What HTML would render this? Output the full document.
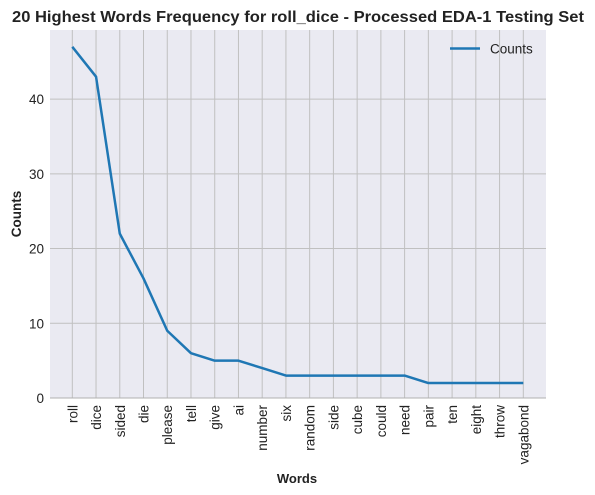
<!DOCTYPE html>
<html><head><meta charset="utf-8"><style>
html,body{margin:0;padding:0;background:#fff;}
svg{display:block;font-family:"Liberation Sans",Arial,sans-serif;}
</style></head><body>
<svg id="chart" width="595" height="495">
<text x="298" y="22" text-anchor="middle" font-size="15.5" font-weight="bold" fill="#222" textLength="572" lengthAdjust="spacingAndGlyphs">20 Highest Words Frequency for roll_dice - Processed EDA-1 Testing Set</text>
<rect x="50" y="30" width="496" height="368" fill="#eaeaf2"/>
<g id="grid"></g>
<line x1="50" y1="398" x2="546" y2="398" stroke="#b0b0b0" stroke-width="1"/>
<g id="yticks"></g>
<g id="xticks"></g>
<polyline id="series" fill="none" stroke="#1f77b4" stroke-width="2.5" stroke-linejoin="round"/>
<g>
<line x1="450" y1="48.5" x2="480" y2="48.5" stroke="#1f77b4" stroke-width="2.5"/>
<text x="490" y="53.5" font-size="13.5" fill="#222">Counts</text>
</g>
<text transform="translate(21,214) rotate(-90)" text-anchor="middle" font-size="13.5" font-weight="bold" fill="#222">Counts</text>
<text x="297" y="483" text-anchor="middle" font-size="13" font-weight="bold" fill="#222">Words</text>
</svg>
<script>
const words = ["roll","dice","sided","die","please","tell","give","ai","number","six","random","side","cube","could","need","pair","ten","eight","throw","vagabond"];
const counts = [47,43,22,16,9,6,5,5,4,3,3,3,3,3,3,2,2,2,2,2];
const yTicks = [0,10,20,30,40];
const yMax = 49.25;
const NS = "http://www.w3.org/2000/svg";
function xs(i){ return 72.3 + i * (523.3 - 72.3) / (words.length - 1); }
function ys(v){ return 398 - v * (368 / yMax); }
const grid = document.getElementById('grid');
const yt = document.getElementById('yticks');
const xt = document.getElementById('xticks');
yTicks.forEach(t => {
  if (t > 0) {
    const l = document.createElementNS(NS,'line');
    l.setAttribute('x1',50); l.setAttribute('x2',546);
    l.setAttribute('y1',ys(t)); l.setAttribute('y2',ys(t));
    l.setAttribute('stroke','#c0c0c0'); l.setAttribute('stroke-width','1');
    
    
    grid.appendChild(l);
  }
  const tx = document.createElementNS(NS,'text');
  tx.setAttribute('x',44); tx.setAttribute('y',ys(t)+5);
  tx.setAttribute('text-anchor','end'); tx.setAttribute('font-size','13.5'); tx.setAttribute('fill','#222');
  tx.textContent = t;
  
  
  yt.appendChild(tx);
});
words.forEach((w,i) => {
  const l = document.createElementNS(NS,'line');
  l.setAttribute('x1',xs(i)); l.setAttribute('x2',xs(i));
  l.setAttribute('y1',30); l.setAttribute('y2',398);
  l.setAttribute('stroke','#c0c0c0'); l.setAttribute('stroke-width','1');
  
  
  grid.appendChild(l);
  const tx = document.createElementNS(NS,'text');
  tx.setAttribute('transform','translate('+(xs(i)+5)+',405) rotate(-90)');
  tx.setAttribute('text-anchor','end'); tx.setAttribute('font-size','13.5'); tx.setAttribute('fill','#222');
  tx.textContent = w;
  
  
  xt.appendChild(tx);
});
document.getElementById('series').setAttribute('points', counts.map((c,i)=>xs(i)+','+ys(c)).join(' '));
</script>
</body></html>
